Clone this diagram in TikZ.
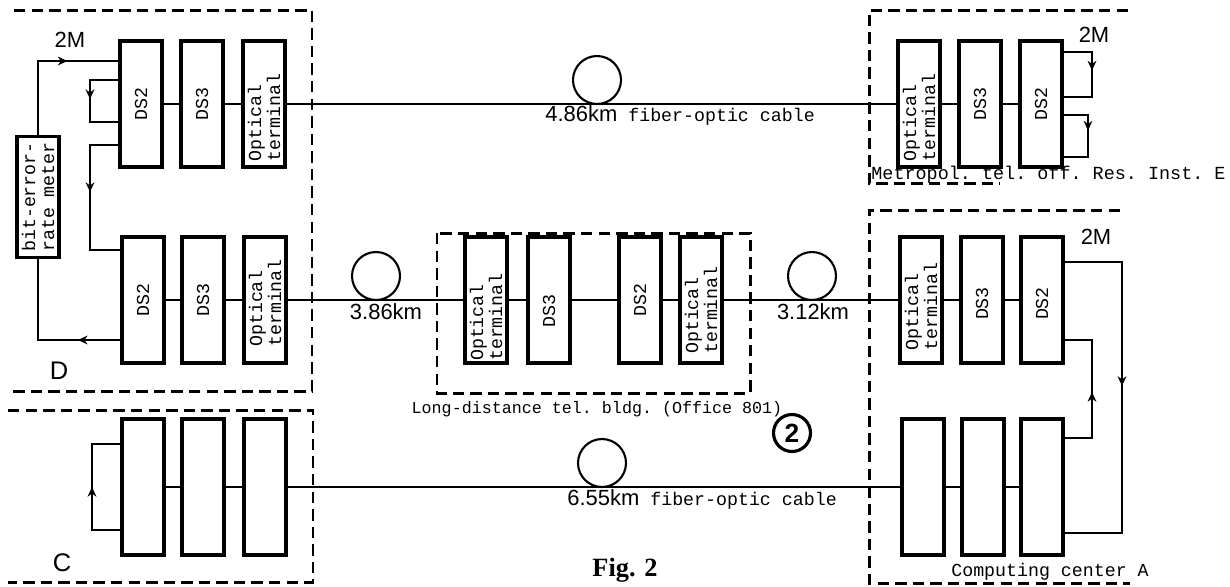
\documentclass[tikz,border=0pt]{standalone}
\usepackage{fontspec}
\setmainfont{Liberation Serif}
\setsansfont{Liberation Sans}
\setmonofont{Liberation Mono}
\usetikzlibrary{arrows.meta,calc,decorations.markings}

\newcommand\kmfont{\fontsize{12.5}{13}\selectfont\sffamily}
\newcommand\typefont{\fontsize{10.4}{10.8}\selectfont\ttfamily}

\tikzset{
  blk/.style={draw, line width=2pt, inner sep=0pt, minimum width=0.84cm, minimum height=2.52cm},
  tallblk/.style={blk, minimum height=2.72cm},
  lnk/.style={line width=1.25pt},
  site/.style={line width=1.7pt, dash pattern=on 6.5pt off 3.5pt},
  coil/.style={circle, draw, line width=1.2pt, minimum size=0.96cm, inner sep=0pt},
  txt/.style={font=\typefont, inner sep=0pt},
  vtxt/.style={txt, rotate=90, align=left},
  num/.style={font=\kmfont, inner sep=0pt},
  midarrow/.style={postaction={decorate}, decoration={markings,
    mark=at position #1 with {\arrow{Stealth[length=5.5pt,width=5pt]}}}},
}

\begin{document}
\begin{tikzpicture}[x=0.02cm, y=-0.02cm]
\useasboundingbox (0,0) rectangle (1230,586);

% station D
\node[blk] (ds2a) at (141,104) {};
\node[blk] (ds3a) at (202,104) {};
\node[blk] (ota) at (264,104) {};
\node[blk] (ds2b) at (143,300) {};
\node[blk] (ds3b) at (203,300) {};
\node[blk] (otb) at (265,300) {};
\node[blk, minimum height=2.42cm] (mtr) at (38,197) {};
\node[vtxt] (ds2at) at (ds2a) {DS2};
\node[vtxt] (ds3at) at (ds3a) {DS3};
\node[vtxt, anchor=west] (otat) at ([yshift=4pt]ota.south) {Optical\\terminal};
\node[vtxt] (ds2bt) at (ds2b) {DS2};
\node[vtxt] (ds3bt) at (ds3b) {DS3};
\node[vtxt, anchor=west] (otbt) at ([yshift=10pt]otb.south) {Optical\\terminal};
\node[vtxt] (mtrt) at (mtr) {bit-error-\\rate meter};

% station C
\node[tallblk] (c1) at (143,487) {};
\node[tallblk] (c2) at (203,487) {};
\node[tallblk] (c3) at (265,487) {};

% long-distance building
\node[blk] (otc) at (486,300) {};
\node[blk] (ds3c) at (549,300) {};
\node[blk] (ds2c) at (640,300) {};
\node[blk] (otd) at (701,300) {};
\node[vtxt, anchor=west] (otct) at ([yshift=2pt]otc.south) {Optical\\terminal};
\node[vtxt] (ds3ct) at ([yshift=-6pt]ds3c) {DS3};
\node[vtxt] (ds2ct) at (ds2c) {DS2};
\node[vtxt, anchor=west] (otdt) at ([yshift=6pt]otd.south) {Optical\\terminal};

% metropol. office E
\node[blk] (ote) at (919,104) {};
\node[blk] (ds3e) at (980,104) {};
\node[blk] (ds2e) at (1041,104) {};
\node[vtxt, anchor=west] (otet) at ([yshift=4pt]ote.south) {Optical\\terminal};
\node[vtxt] (ds3et) at (ds3e) {DS3};
\node[vtxt] (ds2et) at (ds2e) {DS2};

% computing center A
\node[blk] (otf) at (921,300) {};
\node[blk] (ds3f) at (982,300) {};
\node[blk] (ds2f) at (1042,300) {};
\node[vtxt, anchor=west] (otft) at ([yshift=8pt]otf.south) {Optical\\terminal};
\node[vtxt] (ds3ft) at ([yshift=-2pt]ds3f) {DS3};
\node[vtxt] (ds2ft) at ([yshift=-2pt]ds2f) {DS2};
\node[tallblk] (g1) at (923,487) {};
\node[tallblk] (g2) at (983,487) {};
\node[tallblk] (g3) at (1042,487) {};

% fiber coils
\node[coil] (k1) at (597,80) {};
\node[coil] (k2) at (376,276) {};
\node[coil] (k3) at (812,276) {};
\node[coil] (k4) at (602,463) {};

% sites
\draw[site] (14,10) -- (312,10) -- (312,391) -- (8,391);
\draw[site] (8,410) -- (313,410) -- (313,582) -- (8,582);
\draw[site] (437,233) rectangle (750,393);
\draw[site] (1128,10) -- (869,10) -- (869,183) -- (1000,183);
\draw[site] (1120,210) -- (869,210) -- (869,583) -- (1130,583);

% main lines
\draw[lnk] (ds2a.east) -- (ds3a.west) (ds3a.east) -- (ota.west)
  (ota.east) -- (ote.west) (ote.east) -- (ds3e.west) (ds3e.east) -- (ds2e.west);
\draw[lnk] (ds2b.east) -- (ds3b.west) (ds3b.east) -- (otb.west)
  (otb.east) -- (otc.west) (otc.east) -- (ds3c.west) (ds3c.east) -- (ds2c.west)
  (ds2c.east) -- (otd.west) (otd.east) -- (otf.west)
  (otf.east) -- (ds3f.west) (ds3f.east) -- (ds2f.west);
\draw[lnk] (c1.east) -- (c2.west) (c2.east) -- (c3.west) (c3.east) -- (g1.west)
  (g1.east) -- (g2.west) (g2.east) -- (g3.west);

% loops
\coordinate (a1) at (38,61);
\coordinate (a2) at (90,80);
\coordinate (a3) at (90,122);
\coordinate (a4) at (90,145);
\coordinate (a5) at (90,250);
\coordinate (a6) at (38,340);
\draw[lnk, midarrow=0.67] (mtr.north) |- (ds2a.west |- a1);
\draw[lnk, midarrow=0.48] (ds2a.west |- a2) -- (a2) -- (a3) -- (ds2a.west |- a3);
\draw[lnk, midarrow=0.46] (ds2a.west |- a4) -- (a4) -- (a5) -- (ds2b.west |- a5);
\draw[lnk, midarrow=0.26] (ds2b.west |- a6) -| (mtr.south);

\coordinate (b1) at (92,530);
\coordinate (b2) at (92,444);
\draw[lnk, midarrow=0.5] (c1.west |- b1) -- (b1) -- (b2) -- (c1.west |- b2);

\coordinate (e1) at (1092,52);
\coordinate (e2) at (1092,97);
\coordinate (e3) at (1088,115);
\coordinate (e4) at (1088,157);
\draw[lnk, midarrow=0.46] (ds2e.east |- e1) -- (e1) -- (e2) -- (ds2e.east |- e2);
\draw[lnk, midarrow=0.44] (ds2e.east |- e3) -- (e3) -- (e4) -- (ds2e.east |- e4);

\coordinate (f1) at (1122,262);
\coordinate (f2) at (1122,533);
\coordinate (f3) at (1092,438);
\coordinate (f4) at (1092,340);
\draw[lnk, midarrow=0.47] (ds2f.east |- f1) -- (f1) -- (f2) -- (g3.east |- f2);
\draw[lnk, midarrow=0.48] (g3.east |- f3) -- (f3) -- (f4) -- (ds2f.east |- f4);

% labels
\node[num] (m2a) at (70,40) {2M};
\node[num] (m2e) at (1094,35) {2M};
\node[num] (m2f) at (1096,237) {2M};
\node[font=\fontsize{14.5}{15}\selectfont\sffamily] (lbld) at (59,371) {D};
\node[font=\fontsize{14.5}{15}\selectfont\sffamily] (lblc) at (62,563) {C};
\node[txt, anchor=west] (cab1) at (545,115) {{\kmfont 4.86km} fiber-optic cable};
\node[num] (cab2) at (386,312) {3.86km};
\node[num] (cab3) at (813,312) {3.12km};
\node[txt, anchor=west] (cab4) at (567,499) {{\kmfont 6.55km} fiber-optic cable};
\node[txt, font=\fontsize{9.5}{10}\selectfont\ttfamily] (ldl) at (597,409) {Long-distance tel. bldg. (Office 801)};
\node[txt, font=\fontsize{10.5}{11}\selectfont\ttfamily, anchor=base west] (mtl) at (871,179) {Metropol. tel. off. Res. Inst. E};
\node[txt] (ccl) at (1050,572) {Computing center A};
\node[circle, draw, line width=1.8pt, minimum size=0.74cm, inner sep=0pt,
  font=\fontsize{15}{15}\selectfont\sffamily\bfseries] (mark2) at (792,433) {2};
\node[font=\fontsize{15}{16}\selectfont\bfseries] (fig) at (625,570) {Fig. 2};

\end{tikzpicture}
\end{document}
